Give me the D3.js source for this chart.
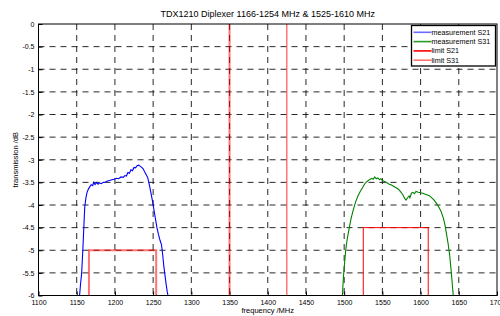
<html>
<head>
<script src="https://d3js.org/d3.v7.min.js"></script>
<style>
  body { margin: 0; background: #fff; }
  text { font-family: "Liberation Sans", Arial, sans-serif; fill: #000; }
</style>
</head>
<body>
<div id="chart"></div>
<script>
// measured S21 (band 1)
const s21Freq = [1153.5,1155,1156.5,1158,1159.3,1160.5,1162,1163.5,1165,1167,1169,1171,1172,1174,1176,1178,1180,1182,1185,1188,1190,1193,1196,1199,1202,1205,1208,1211,1213,1215,1217,1219,1221,1223,1225,1227,1229,1231,1233,1235,1237,1239,1241,1243,1245,1247,1249,1251,1253,1255,1257,1259,1261,1262.5,1264,1265.5,1267,1268.5,1270];
const s21Db = [-6.05,-5.75,-5.5,-5.0,-4.5,-4.05,-3.85,-3.72,-3.66,-3.6,-3.55,-3.57,-3.5,-3.55,-3.5,-3.54,-3.51,-3.53,-3.5,-3.49,-3.47,-3.46,-3.44,-3.43,-3.41,-3.42,-3.38,-3.39,-3.35,-3.36,-3.28,-3.3,-3.22,-3.24,-3.17,-3.18,-3.13,-3.12,-3.14,-3.17,-3.2,-3.27,-3.33,-3.4,-3.55,-3.72,-3.9,-4.1,-4.3,-4.5,-4.65,-4.78,-4.88,-5.1,-5.35,-5.55,-5.75,-5.92,-6.05];

// measured S31 (band 2)
const s31Freq = [1497.5,1499,1500.5,1502,1504,1506.5,1509,1512,1515,1518,1521,1524,1527,1530,1533,1536,1538,1540,1542,1544,1546,1548,1550,1553,1556,1559,1562,1565,1568,1571,1574,1577,1579,1581,1583,1585,1586,1588,1590,1592,1594,1597,1600,1603,1606,1609,1612,1615,1618,1621,1624,1627,1630,1632,1634,1636,1638,1640,1641.5,1643];
const s31Db = [-6.05,-5.6,-5.3,-5.0,-4.75,-4.52,-4.3,-4.1,-3.93,-3.8,-3.7,-3.62,-3.53,-3.48,-3.44,-3.41,-3.43,-3.38,-3.42,-3.4,-3.44,-3.42,-3.46,-3.48,-3.51,-3.54,-3.56,-3.59,-3.62,-3.65,-3.71,-3.78,-3.85,-3.89,-3.84,-3.8,-3.84,-3.74,-3.72,-3.75,-3.7,-3.72,-3.73,-3.74,-3.76,-3.78,-3.8,-3.85,-3.9,-3.97,-4.05,-4.15,-4.3,-4.45,-4.65,-4.85,-5.1,-5.45,-5.75,-6.05];

// limit masks
const limAFreq = [1166, 1166, 1254, 1254];
const limADb = [-6, -5, -5, -6];
const limALine = 1350;
const limBFreq = [1525, 1525, 1610, 1610];
const limBDb = [-6, -4.5, -4.5, -6];
const limBLine = 1425;

const xTicks = d3.range(1100, 1701, 50);
const yTicks = d3.range(0, -6.01, -0.5);
const legendNames = ["measurement S21", "measurement S31", "limit S21", "limit S31"];
const legendColors = ["#6a6aff", "#2a9a2a", "#ff0000", "rgba(255,0,0,0.55)"];

const W = 500, H = 316;
const pLeft = 38.5, pRight = 497, pTop = 24, pBottom = 295.5;

const svg = d3.select("#chart").append("svg")
  .attr("width", W).attr("height", H);

const x = d3.scaleLinear().domain([1100, 1700]).range([pLeft, pRight]);
const y = d3.scaleLinear().domain([-6, 0]).range([pBottom, pTop]);

svg.append("defs").append("clipPath").attr("id", "clip")
  .append("rect").attr("x", pLeft).attr("y", pTop)
  .attr("width", pRight - pLeft).attr("height", pBottom - pTop);

// grid
const grid = svg.append("g").attr("stroke", "#111").attr("stroke-width", 0.9)
  .attr("stroke-dasharray", "6,5");
grid.selectAll(".vg").data(xTicks.slice(1, -1)).enter().append("line")
  .attr("x1", d => x(d)).attr("x2", d => x(d))
  .attr("y1", pTop).attr("y2", pBottom);
grid.selectAll(".hg").data(yTicks.slice(1, -1)).enter().append("line")
  .attr("x1", pLeft).attr("x2", pRight)
  .attr("y1", d => y(d)).attr("y2", d => y(d));

// axes
const fmt = d => String(Math.round(d * 10) / 10);
const xAxis = svg.append("g").attr("transform", `translate(0,${pBottom})`)
  .call(d3.axisBottom(x).tickValues(xTicks).tickFormat(fmt).tickSizeInner(-4).tickSizeOuter(0).tickPadding(5));
const yAxis = svg.append("g").attr("transform", `translate(${pLeft},0)`)
  .call(d3.axisLeft(y).tickValues(yTicks).tickFormat(fmt).tickSizeInner(-4).tickSizeOuter(0).tickPadding(4));
[xAxis, yAxis].forEach(a => {
  a.select(".domain").remove();
  a.selectAll("line").attr("stroke", "#000");
  a.selectAll("text").style("font-size", "7px").attr("font-family", null);
});

const line = d3.line().x(d => x(d[0])).y(d => y(d[1]));
const plot = svg.append("g").attr("clip-path", "url(#clip)");

// limits
plot.append("path").datum(d3.zip(limAFreq, limADb)).attr("d", line)
  .attr("fill", "none").attr("stroke", "rgba(255,0,0,0.55)").attr("stroke-width", 2);
plot.append("line").attr("x1", x(limALine)).attr("x2", x(limALine))
  .attr("y1", y(-6)).attr("y2", y(0))
  .attr("stroke", "rgba(255,0,0,0.55)").attr("stroke-width", 2);
plot.append("path").datum(d3.zip(limBFreq, limBDb)).attr("d", line)
  .attr("fill", "none").attr("stroke", "#ff0000").attr("stroke-width", 1);
plot.append("line").attr("x1", x(limBLine)).attr("x2", x(limBLine))
  .attr("y1", y(-6)).attr("y2", y(0))
  .attr("stroke", "#ff3030").attr("stroke-width", 1);

// measurements
plot.append("path").datum(d3.zip(s21Freq, s21Db)).attr("d", line)
  .attr("fill", "none").attr("stroke", "#0000ff").attr("stroke-width", 1.1);
plot.append("path").datum(d3.zip(s31Freq, s31Db)).attr("d", line)
  .attr("fill", "none").attr("stroke", "#008000").attr("stroke-width", 1.1);

// frame
svg.append("rect").attr("x", pLeft).attr("y", pTop)
  .attr("width", pRight - pLeft).attr("height", pBottom - pTop)
  .attr("fill", "none").attr("stroke", "#000").attr("stroke-width", 1);

// labels
svg.append("text").attr("x", (pLeft + pRight) / 2).attr("y", 17)
  .attr("text-anchor", "middle").style("font-size", "9px")
  .text("TDX1210 Diplexer 1166-1254 MHz & 1525-1610 MHz");
svg.append("text").attr("x", (pLeft + pRight) / 2).attr("y", 313)
  .attr("text-anchor", "middle").style("font-size", "7.5px")
  .text("frequency /MHz");
svg.append("text").attr("transform", `translate(18,${(pTop + pBottom) / 2}) rotate(-90)`)
  .attr("text-anchor", "middle").style("font-size", "7.5px")
  .text("transmission /dB");

// legend
const lg = svg.append("g");
lg.append("rect").attr("x", 411.5).attr("y", 25.5).attr("width", 84).attr("height", 40.5)
  .attr("fill", "#fff").attr("stroke", "#000").attr("stroke-width", 1.3);
legendNames.forEach((n, i) => {
  const yy = 32.3 + i * 9.3;
  lg.append("line").attr("x1", 413.5).attr("x2", 431.5).attr("y1", yy).attr("y2", yy)
    .attr("stroke", legendColors[i]).attr("stroke-width", 1.6);
  lg.append("text").attr("x", 431.5).attr("y", yy + 2.5)
    .style("font-size", "7.2px").text(n);
});
</script>
</body>
</html>
